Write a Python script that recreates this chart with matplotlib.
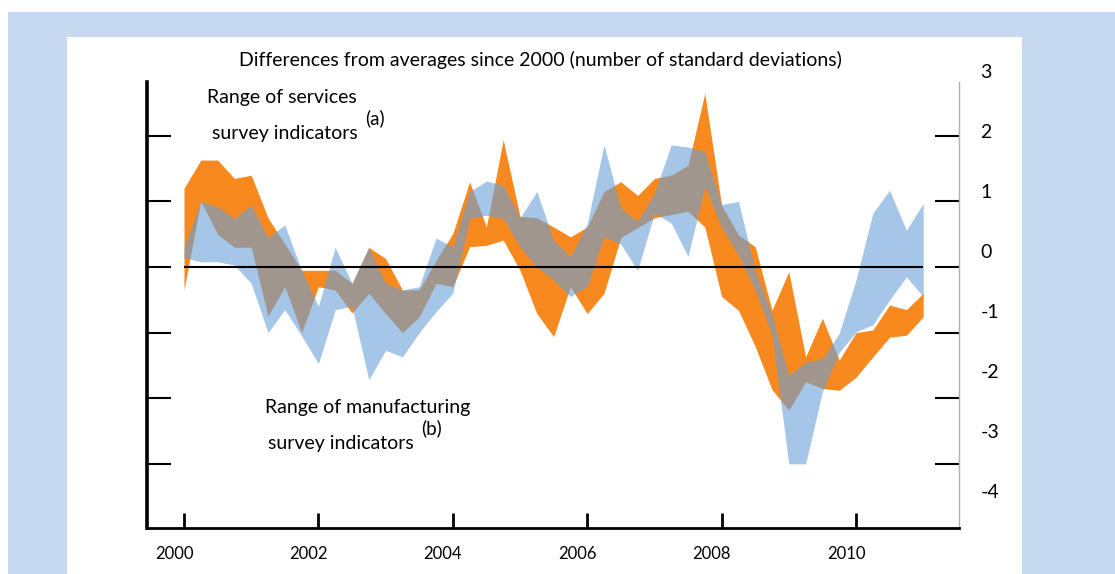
import numpy as np
import matplotlib
matplotlib.use("Agg")
import matplotlib.pyplot as plt
import matplotlib.patches as mpatches
import matplotlib.transforms as mtransforms

plt.rcParams["font.family"] = ["Lato", "DejaVu Sans"]

# quarterly, 2000 Q1 to 2011 Q1
quarters = 2000 + np.arange(45) / 4.0

services_hi = [1.20, 1.63, 1.63, 1.35, 1.40, 0.75, 0.35, -0.05, -0.05, -0.05,
               -0.25, 0.30, 0.13, -0.35, -0.35, 0.10, 0.51, 1.30, 0.61, 1.94,
               0.77, 0.75, 0.61, 0.46, 0.61, 1.15, 1.30, 1.09, 1.35, 1.40,
               1.55, 2.65, 0.94, 0.49, 0.31, -0.66, -0.07, -1.37, -0.78, -1.42,
               -1.00, -0.96, -0.58, -0.65, -0.40]
services_lo = [-0.35, 1.00, 0.50, 0.30, 0.30, -0.75, -0.30, -1.00, -0.30, -0.35,
               -0.70, -0.40, -0.71, -1.00, -0.76, -0.25, -0.30, 0.31, 0.33, 0.41,
               -0.05, -0.71, -1.06, -0.30, -0.71, -0.40, 0.45, 0.60, 0.75, 0.80,
               0.85, 0.61, -0.45, -0.66, -1.21, -1.87, -2.18, -1.75, -1.85, -1.88,
               -1.68, -1.37, -1.07, -1.04, -0.76]
manuf_hi = [0.30, 1.00, 0.92, 0.74, 0.95, 0.45, 0.64, -0.05, -0.60, 0.30,
            -0.25, 0.30, -0.25, -0.35, -0.30, 0.44, 0.31, 1.15, 1.31, 1.25,
            0.75, 1.15, 0.41, 0.16, 0.66, 1.86, 0.90, 0.70, 1.12, 1.86,
            1.83, 1.76, 0.95, 1.00, -0.05, -0.73, -1.65, -1.45, -1.40, -1.01,
            -0.20, 0.82, 1.17, 0.56, 0.97]
manuf_lo = [0.14, 0.08, 0.08, 0.03, -0.25, -1.00, -0.65, -1.05, -1.47, -0.65,
            -0.60, -1.72, -1.27, -1.37, -1.00, -0.68, -0.40, 0.74, 0.79, 0.74,
            0.31, 0.00, -0.20, -0.45, -0.30, 0.46, 0.35, -0.05, 0.82, 0.67,
            0.16, 1.23, 0.60, 0.18, -0.35, -1.04, -3.00, -3.00, -1.90, -1.30,
            -0.99, -0.88, -0.50, -0.15, -0.45]

left_ticks = [-3, -2, -1, 0, 1, 2]
right_labels = [-4, -3, -2, -1, 0, 1, 2, 3]
year_ticks = [2000, 2002, 2004, 2006, 2008, 2010]

ORANGE = "#F7891F"
BLUE = "#69A0D7"
W, H = 1115, 574

fig = plt.figure(figsize=(W / 100, H / 100), dpi=100, facecolor="white")

# light blue frame with white panel
fig.patches.append(mpatches.Rectangle((8 / W, 0), 1, (H - 12) / H,
                                      transform=fig.transFigure,
                                      facecolor="#C6D9F0", edgecolor="none",
                                      zorder=-10))
fig.patches.append(mpatches.Rectangle((67 / W, 0), (1022 - 67) / W, (H - 37) / H,
                                      transform=fig.transFigure,
                                      facecolor="white", edgecolor="none",
                                      zorder=-9))

ax = fig.add_axes([147 / W, (H - 528) / H, (959 - 147) / W, (528 - 82) / H])
ax.set_facecolor("none")

ax.fill_between(quarters, services_lo, services_hi, color=ORANGE,
                linewidth=0, zorder=2)
ax.fill_between(quarters, manuf_lo, manuf_hi, color=BLUE, alpha=0.6,
                linewidth=0, zorder=3)
ax.hlines(0, quarters[0], quarters[-1], color="black", linewidth=1.5, zorder=4)

ax.set_xlim(2000 - 37 / 67.2, 2000 + 775 / 67.2)
ax.set_ylim(-261 / 65.6, 185 / 65.6)

ax.spines["top"].set_visible(False)
ax.spines["left"].set_linewidth(2.6)
ax.spines["bottom"].set_linewidth(2.0)
ax.spines["right"].set_color("#b0b0b0")
ax.spines["right"].set_linewidth(1.0)

ax.set_yticks(left_ticks)
ax.tick_params(axis="y", which="both", direction="in", length=17, width=1.5,
               left=True, right=True, labelleft=False, labelright=False)
ax.set_xticks(year_ticks)
ax.set_xticklabels([str(y) for y in year_ticks], fontsize=12)
ax.tick_params(axis="x", direction="in", length=11, width=2, pad=13)
shift = mtransforms.ScaledTranslation(-0.10, 0, fig.dpi_scale_trans)
for lab in ax.get_xticklabels():
    lab.set_transform(lab.get_transform() + shift)

# right-hand scale labels
rax = fig.add_axes([147 / W, (H - 491) / H, (959 - 147) / W, (491 - 71) / H])
rax.set_facecolor("none")
for s in rax.spines.values():
    s.set_visible(False)
rax.set_xticks([])
rax.set_ylim(-4, 3)
rax.set_yticks(right_labels)
rax.set_yticklabels([str(v) for v in right_labels], fontsize=14)
rax.tick_params(axis="y", left=False, labelleft=False, right=False,
                labelright=True, pad=12)

fig.text(540 / W, 1 - 60 / H,
         "Differences from averages since 2000 (number of standard deviations)",
         ha="center", va="center", fontsize=14)

fig.text(282 / W, 1 - 98 / H, "Range of services", ha="center", va="center",
         fontsize=14)
fig.text(285 / W, 1 - 134 / H, "survey indicators", ha="center", va="center",
         fontsize=14)
fig.text(375 / W, 1 - 118 / H, "(a)", ha="center", va="center", fontsize=13.5)

fig.text(368 / W, 1 - 408 / H, "Range of manufacturing", ha="center",
         va="center", fontsize=14)
fig.text(341 / W, 1 - 443 / H, "survey indicators", ha="center", va="center",
         fontsize=14)
fig.text(432 / W, 1 - 428 / H, "(b)", ha="center", va="center", fontsize=13.5)

fig.savefig("out.png", dpi=100, facecolor="white")
